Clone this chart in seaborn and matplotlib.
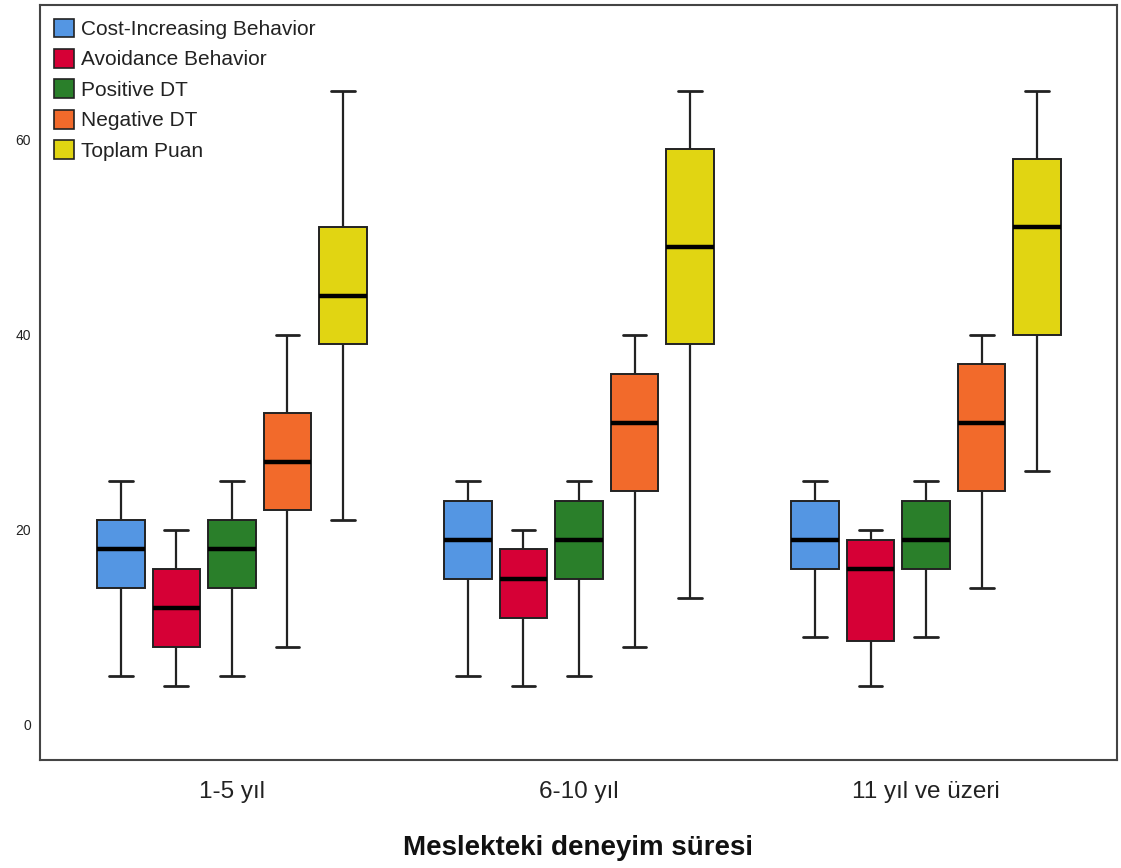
import seaborn as sns
import matplotlib.pyplot as plt
import pandas as pd
from matplotlib.patches import Patch

# five-number summaries: min, Q1, median, Q3, max
groups = ['1-5 yıl', '6-10 yıl', '11 yıl ve üzeri']
series = ['Cost-Increasing Behavior', 'Avoidance Behavior', 'Positive DT',
          'Negative DT', 'Toplam Puan']

cost = [[5, 14, 18, 21, 25], [5, 15, 19, 23, 25], [9, 16, 19, 23, 25]]
avoid = [[4, 8, 12, 16, 20], [4, 11, 15, 18, 20], [4, 8.6, 16, 19, 20]]
pos_dt = [[5, 14, 18, 21, 25], [5, 15, 19, 23, 25], [9, 16, 19, 23, 25]]
neg_dt = [[8, 22, 27, 32, 40], [8, 24, 31, 36, 40], [14, 24, 31, 37, 40]]
toplam = [[21, 39, 44, 51, 65], [13, 39, 49, 59, 65], [26, 40, 51, 58, 65]]

colors = ['#5496E3', '#D60036', '#2A7F2A', '#F26A2B', '#E1D512']

rows = []
for name, vals in zip(series, [cost, avoid, pos_dt, neg_dt, toplam]):
    for g, five in zip(groups, vals):
        for v in five:
            rows.append({'grup': g, 'seri': name, 'deger': v})
df = pd.DataFrame(rows)

sns.set_style('white')
plt.rcParams['font.family'] = ['Liberation Sans', 'DejaVu Sans']

fig = plt.figure(figsize=(11.21, 8.68), dpi=100)
ax = fig.add_axes([0.0357, 0.1244, 0.9607, 0.8698])

sns.boxplot(data=df, x='grup', y='deger', hue='seri', order=groups,
            hue_order=series, palette=colors, saturation=1, whis=(0, 100),
            width=0.8, gap=0.14, linecolor='#222222', linewidth=1.4,
            showfliers=False, ax=ax,
            medianprops=dict(color='black', linewidth=3.2),
            capprops=dict(color='#222222', linewidth=2),
            whiskerprops=dict(color='#222222', linewidth=1.6))

ax.set_xlim(-0.553, 2.55)
ax.set_ylim(-3.6, 73.8)
ax.set_yticks([0, 20, 40, 60])
ax.tick_params(axis='y', length=0, labelsize=10, pad=6.5, labelcolor='#222222')
ax.tick_params(axis='x', length=0, labelsize=17.5, pad=15, labelcolor='#222222')
ax.set_ylabel('')
ax.set_xlabel('Meslekteki deneyim süresi', fontsize=20, fontweight='bold',
              labelpad=23, color='#111111')
for s in ax.spines.values():
    s.set_visible(True)
    s.set_color('#444444')
    s.set_linewidth(1.5)

handles = [Patch(facecolor=c, edgecolor='#222222', linewidth=1.2) for c in colors]
ax.legend(handles, series, loc='upper left', frameon=False, fontsize=15,
          handlelength=1.0, handleheight=1.0, handletextpad=0.3,
          labelspacing=0.48, borderaxespad=0.25, borderpad=0.4,
          labelcolor='#222222')

fig.savefig('out.png', dpi=100)
